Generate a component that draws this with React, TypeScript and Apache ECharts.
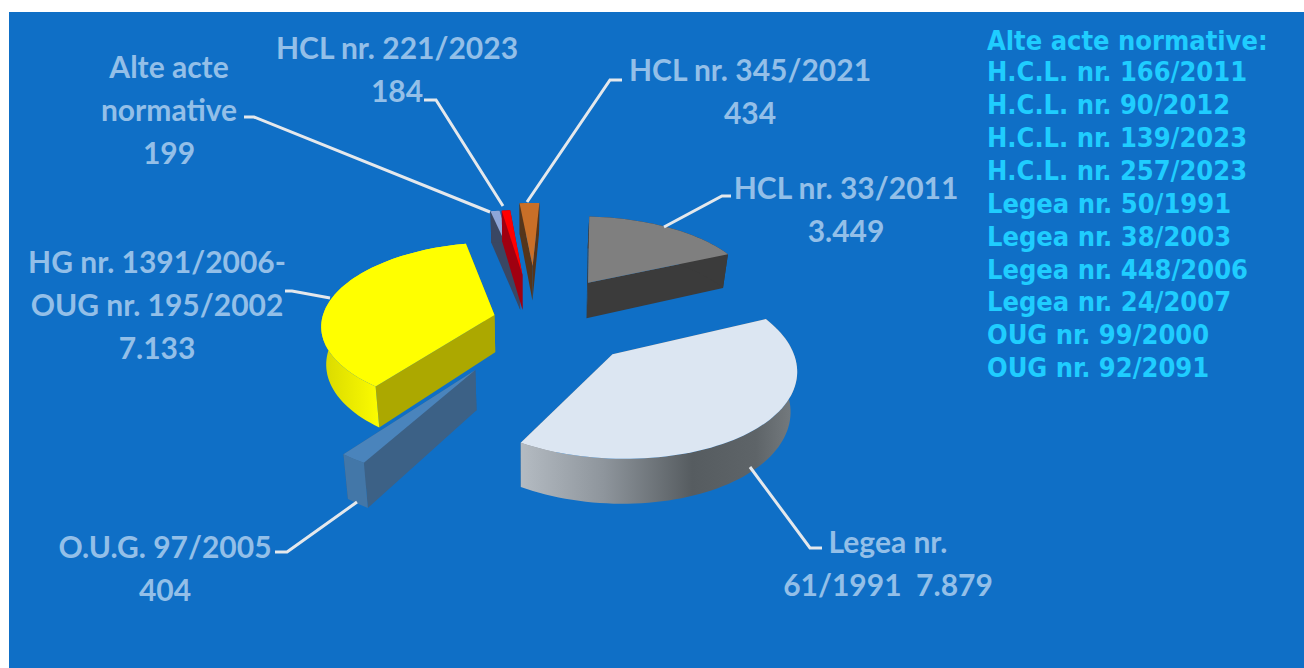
import React, { useEffect, useRef } from "react";
import * as echarts from "echarts";

const sliceNames = ["HCL nr. 33/2011", "Legea nr. 61/1991", "O.U.G. 97/2005", "HG nr. 1391/2006-OUG nr. 195/2002", "Alte acte normative", "HCL nr. 221/2023", "HCL nr. 345/2021"];
const sliceValues = [3449, 7879, 404, 7133, 199, 184, 434];

const sliceLabels = [
  ["HCL nr. 33/2011", "3.449"],
  ["Legea nr.", "61/1991  7.879"],
  ["O.U.G. 97/2005", "404"],
  ["HG nr. 1391/2006-", "OUG nr. 195/2002", "7.133"],
  ["Alte acte", "normative", "199"],
  ["HCL nr. 221/2023", "184"],
  ["HCL nr. 345/2021", "434"],
];
const legendLines = ["Alte acte normative:", "H.C.L. nr. 166/2011", "H.C.L. nr. 90/2012", "H.C.L. nr. 139/2023", "H.C.L. nr. 257/2023", "Legea nr. 50/1991", "Legea nr. 38/2003", "Legea nr. 448/2006", "Legea nr. 24/2007", "OUG nr. 99/2000", "OUG nr. 92/2091"];

// layout of the 3D projection
const CX = 525, CY = 313, RX = 171, RY = 81, P = 0.12, Q = 0.025, H = 37, ROT = 3;
const explode = [[0.386, 0.39], [0.482, -0.48], [-0.268, -0.649], [-0.178, -0.025], [-0.031, 0.50], [-0.016, 0.50], [0.048, 0.622]];
const labelPos = [[846, 187], [888, 541], [165, 546], [157, 261], [169, 66], [397, 47], [750, 69]];
const leaders = [
  [[731, 196], [722, 196], [664, 227]],
  [[822, 548], [810, 548], [750, 467]],
  [[275, 552], [287, 552], [357, 502]],
  [[285, 291], [292, 291], [330, 298]],
  [[244, 117], [254, 117], [490, 212]],
  [[424, 100], [436, 100], [503, 206]],
  [[622, 80], [610, 80], [527, 202]],
];
const grad = (stops: [number, string][]) => new echarts.graphic.LinearGradient(0, 0, 1, 0, stops.map(([offset, color]) => ({ offset, color })));
const styles = [
  { top: "#7f7f7f", wall: "#3b3b3b", rim: "#3b3b3b" },
  { top: "#dce6f2", wall: "#5f6569", rim: grad([[0, "#b4bbc2"], [0.3, "#8e959c"], [0.62, "#565c60"], [0.85, "#5e6468"], [1, "#777d81"]]) },
  { top: "#4a84bc", wall: "#3c6186", rim: "#4377a8" },
  { top: "#ffff00", wall: "#aca800", rim: grad([[0, "#d8d800"], [0.4, "#fcfc00"], [1, "#ffff00"]]) },
  { top: "#8ea6d8", wall: "#3a4763", rim: "#3a4763" },
  { top: "#ff0000", wall: "#a00010", rim: "#a00010" },
  { top: "#c96f28", wall: "#55351b", rim: "#55351b" },
];

const project = (X: number, Y: number, Z: number) => {
  const w = 1 + P * Y;
  return [CX + (RX * X) / (w * (1 + Q * Z)), CY - (RY * Y) / w + (H * Z) / w];
};

const total = sliceValues.reduce((a, b) => a + b, 0);

const renderSlice = (params: any, api: any) => {
  const i = params.dataIndex;
  const before = sliceValues.slice(0, i).reduce((a, b) => a + b, 0);
  const a0 = ROT + (before / total) * 360;
  const a1 = a0 + (api.value(0) / total) * 360;
  const [ox, oy] = explode[i];
  const steps = Math.max(4, Math.ceil((a1 - a0) / 2));
  const rim: number[][] = [];
  for (let k = 0; k <= steps; k++) {
    const t = ((a0 + ((a1 - a0) * k) / steps) * Math.PI) / 180;
    rim.push([ox + Math.sin(t), oy + Math.cos(t)]);
  }
  const topRim = rim.map(([x, y]) => project(x, y, 0));
  const botRim = rim.map(([x, y]) => project(x, y, 1));
  const apexT = project(ox, oy, 0), apexB = project(ox, oy, 1);
  const s = styles[i];
  const n = topRim.length - 1;
  const poly = (points: number[][], fill: any) => ({
    type: "polygon",
    shape: { points },
    style: { fill, stroke: "none" },
    silent: true,
  });
  return {
    type: "group",
    children: [
      poly([apexT, topRim[n], botRim[n], apexB], s.wall),
      poly([apexT, topRim[0], botRim[0], apexB], s.wall),
      poly([...topRim, ...botRim.slice().reverse()], s.rim),
      poly([apexT, ...topRim], s.top),
    ],
  };
};

const LABEL_COLOR = "#93bfe8";
const LEGEND_COLOR = "#1fcdff";
const LINE_COLOR = "#e4e8ec";

export default function App() {
  const ref = useRef<HTMLDivElement>(null);
  useEffect(() => {
    const chart = echarts.init(ref.current!, undefined, { renderer: "svg" });
    const graphics: any[] = [
      { type: "rect", z: 0, shape: { x: 9, y: 12, width: 1295, height: 656 }, style: { fill: "#0f6fc6" }, silent: true },
    ];
    leaders.forEach((pts) => {
      graphics.push({ type: "polyline", z: 5, shape: { points: pts }, style: { stroke: LINE_COLOR, lineWidth: 3, fill: "none" }, silent: true });
    });
    sliceLabels.forEach((lines, i) => {
      lines.forEach((text, j) => {
        graphics.push({
          type: "text", z: 6, x: labelPos[i][0], y: labelPos[i][1] + j * 43,
          style: { text, fill: LABEL_COLOR, font: 'bold 30px Lato', textAlign: "center", textVerticalAlign: "middle" },
        });
      });
    });
    const legendY = [40, 71, 104, 137, 170, 203, 236, 269, 301, 334, 367];
    legendLines.forEach((text, j) => {
      graphics.push({
        type: "text", z: 6, x: 987, y: legendY[j],
        style: { text, fill: LEGEND_COLOR, font: 'bold 27px "DejaVu Sans Condensed"', textAlign: "left", textVerticalAlign: "middle" },
      });
    });
    chart.setOption({
      animation: false,
      graphic: graphics,
      series: [{
        type: "custom",
        name: "Acte normative",
        coordinateSystem: "none",
        z: 3,
        silent: true,
        renderItem: renderSlice,
        data: sliceValues.map((v, i) => ({ name: sliceNames[i], value: [v] })),
      }],
    });
    return () => chart.dispose();
  }, []);
  return <div ref={ref} style={{ position: "fixed", left: 0, top: 0, width: 1304, height: 668, background: "#fff" }} />;
}
